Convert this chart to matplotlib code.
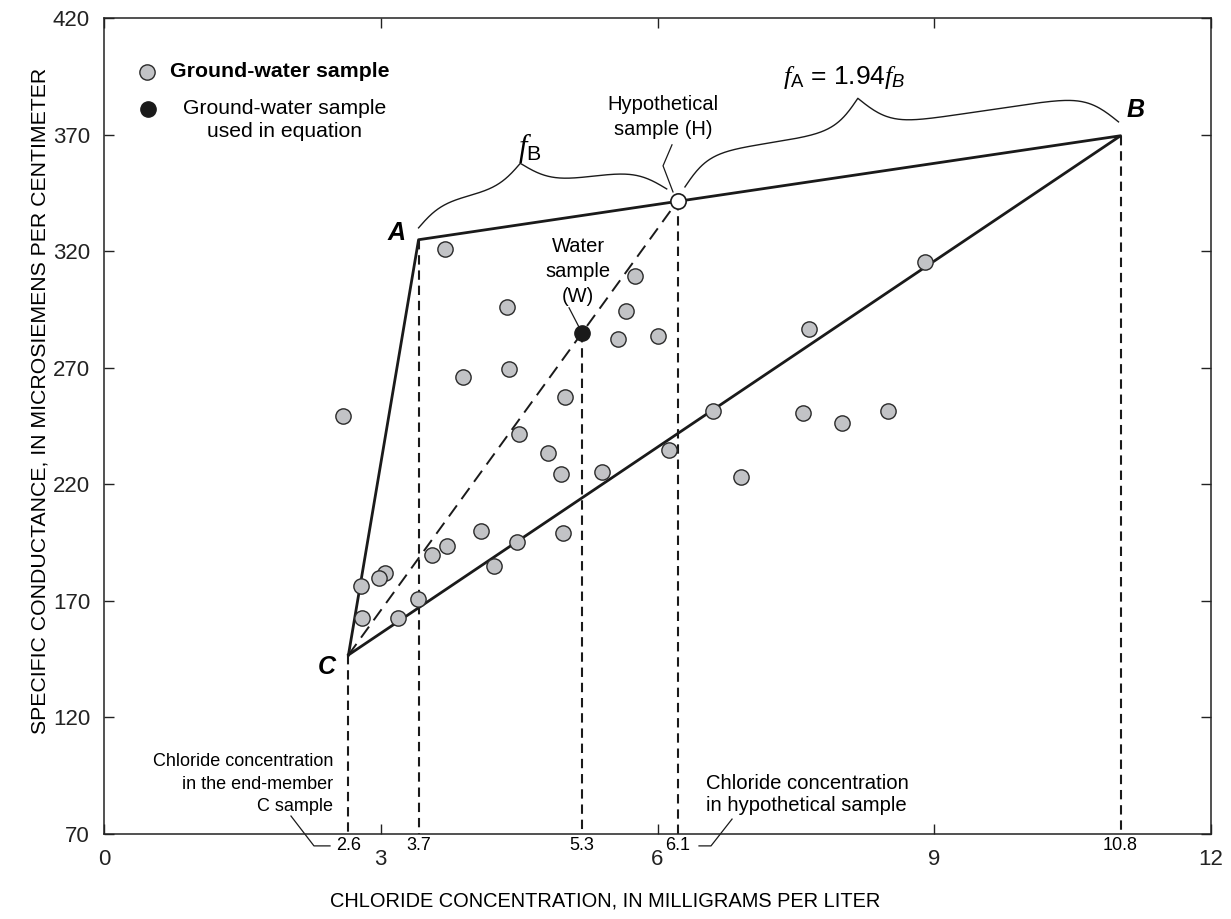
import numpy as np
import matplotlib
matplotlib.use("Agg")
import matplotlib.pyplot as plt

plt.rcParams['font.family'] = ['Liberation Sans', 'DejaVu Sans']
plt.rcParams['mathtext.fontset'] = 'custom'
plt.rcParams['mathtext.rm'] = 'Liberation Sans'
plt.rcParams['mathtext.it'] = 'Liberation Serif:italic'
plt.rcParams['mathtext.sf'] = 'Liberation Sans:italic'

# ground-water samples: chloride (mg/L) and specific conductance (uS/cm)
cl = [2.59, 3.70, 4.37, 5.76, 5.66, 5.57, 6.00, 3.89, 4.39, 5.00, 6.60, 4.50,
      4.81, 6.13, 4.95, 5.40, 6.91, 4.09, 4.98, 4.48, 3.72, 3.56, 4.23, 3.05,
      2.98, 2.79, 3.40, 2.80, 3.19, 8.90, 7.64, 7.58, 8.00, 8.50]
sc = [249.4, 321.0, 296.1, 309.4, 294.3, 282.4, 283.4, 266.2, 269.4, 257.6, 251.5, 241.6,
      233.6, 234.5, 224.5, 225.2, 223.3, 200.0, 199.3, 195.2, 193.4, 189.7, 185.0, 182.1,
      180.0, 176.4, 170.7, 162.6, 162.8, 315.3, 286.4, 250.5, 246.5, 251.4]

# end members C, A, B
end_names = ['C', 'A', 'B']
end_cl = [2.65, 3.41, 11.02]
end_sc = [146.8, 324.9, 369.5]
# water sample W and hypothetical sample H
w_cl, w_sc = 5.18, 284.7
h_cl, h_sc = 6.22, 341.6
# labels under the dashed drop lines (C, A, W, H, B)
drop_cl = [end_cl[0], end_cl[1], w_cl, h_cl, end_cl[2]]
drop_sc = [end_sc[0], end_sc[1], w_sc, h_sc, end_sc[2]]
drop_lbl = ['2.6', '3.7', '5.3', '6.1', '10.8']

fig = plt.figure(figsize=(12.31, 9.19), dpi=100)
ax = fig.add_axes([104/1231, 1-834/919, 1107/1231, 816/919])
ax.set_xlim(0, 12)
ax.set_ylim(70, 420)
ax.set_xticks([0, 3, 6, 9, 12])
ax.set_yticks(range(70, 421, 50))
ax.tick_params(direction='in', length=7, width=1, labelsize=16, pad=10,
               top=True, right=True, colors='#222222')
ax.tick_params(axis='x', pad=11)
for s in ax.spines.values():
    s.set_linewidth(1.1)
    s.set_color('#222222')

ax.set_ylabel('SPECIFIC CONDUCTANCE, IN MICROSIEMENS PER CENTIMETER', fontsize=15.3)
ax.yaxis.set_label_coords(-0.049, 0.531)
ax.set_xlabel('CHLORIDE CONCENTRATION, IN MILLIGRAMS PER LITER', fontsize=14.4)
ax.xaxis.set_label_coords(0.4526, -0.07)

k = '#1a1a1a'
# mixing triangle
ax.plot([end_cl[0], end_cl[1], end_cl[2], end_cl[0]],
        [end_sc[0], end_sc[1], end_sc[2], end_sc[0]], color=k, lw=2, zorder=2)
# C -> H through W
ax.plot([end_cl[0], h_cl], [end_sc[0], h_sc], color=k, lw=1.4,
        linestyle=(0, (7, 4)), zorder=2)
# drop lines
for x, y in zip(drop_cl, drop_sc):
    ax.plot([x, x], [y, 70], color=k, lw=1.5, linestyle=(0, (4.5, 2.8)), zorder=2)
for x, t in zip(drop_cl, drop_lbl):
    ax.text(x, 64.9, t, fontsize=13, ha='center', va='center', clip_on=False)

ax.plot(cl, sc, 'o', ms=11, mfc='#c2c3c6', mec='#2a2a2a', mew=1, zorder=4)
ax.plot(w_cl, w_sc, 'o', ms=11, mfc=k, mec=k, zorder=5)
ax.plot(h_cl, h_sc, 'o', ms=11, mfc='white', mec=k, mew=1.2, zorder=5)

# end-member letters
lbl_pos = {'A': (3.176, 327.8), 'B': (11.187, 380.6), 'C': (2.417, 141.6)}
for n in end_names:
    ax.text(*lbl_pos[n], n, fontsize=18, fontweight='bold', fontstyle='italic',
            ha='center', va='center')

# legend
ax.plot(0.466, 396.9, 'o', ms=11, mfc='#c2c3c6', mec='#2a2a2a', mew=1)
ax.text(0.715, 396.9, 'Ground-water sample', fontsize=15.3, fontweight='bold', va='center')
ax.plot(0.477, 381.0, 'o', ms=11, mfc=k, mec=k)
ax.text(1.96, 376.3, 'Ground-water sample\nused in equation', fontsize=15.2,
        ha='center', va='center', multialignment='center', linespacing=1.25)

# annotations
ax.text(6.06, 377.6, 'Hypothetical\nsample (H)', fontsize=14.5, ha='center',
        va='center', linespacing=1.4)
ax.plot([6.157, 6.060, 6.168], [365.6, 356.6, 345.4], color=k, lw=0.9)
ax.text(5.138, 311.1, 'Water\nsample\n(W)', fontsize=14.5, ha='center', va='center',
        linespacing=1.4)
ax.plot([5.041, 5.160], [295.7, 286.6], color=k, lw=0.9)

ax.text(2.482, 91.4, 'Chloride concentration\nin the end-member\nC sample',
        fontsize=13, ha='right', va='center', multialignment='right', linespacing=1.4)
ax.plot([2.027, 2.276, 2.45], [77.7, 64.9, 64.9], color=k, lw=0.9, clip_on=False)
ax.text(6.526, 86.9, 'Chloride concentration\nin hypothetical sample', fontsize=14.6,
        ha='left', va='center', linespacing=1.2)
ax.plot([6.808, 6.580, 6.45], [76.4, 64.9, 64.9], color=k, lw=0.9, clip_on=False)


def brace(p0, p1, offset, height, tip=0.5, beta=0.07):
    a = ax.transData.transform(p0)
    b = ax.transData.transform(p1)
    d = b - a
    L = np.hypot(*d)
    u = d / L
    nrm = np.array([-u[1], u[0]])
    Ll, Lr = tip * L, (1 - tip) * L
    s1 = np.linspace(0, Ll, 200)
    h1 = 1/(1+np.exp(-beta*s1)) + 1/(1+np.exp(-beta*(s1-Ll))) - 0.5
    s2 = np.linspace(0, Lr, 200)
    h2 = 1/(1+np.exp(-beta*s2)) + 1/(1+np.exp(-beta*(s2-Lr))) - 0.5
    s = np.concatenate([s1, L - s2[::-1]])
    h = np.concatenate([h1 - h1[0], (h2 - h2[0])[::-1]])
    pts = a + np.outer(s, u) + np.outer(offset + h * height, nrm)
    dat = ax.transData.inverted().transform(pts)
    ax.plot(dat[:, 0], dat[:, 1], color=k, lw=1.0, clip_on=False)


brace((end_cl[1] + 0.02, end_sc[1]), (h_cl - 0.1, h_sc), 12, 48, tip=0.44)
brace((h_cl + 0.1, h_sc), (end_cl[2], end_sc[2]), 14, 62, tip=0.42)

ax.text(4.618, 364.3, r'$f_{\mathrm{B}}$', fontsize=22, ha='center', va='center')
ax.text(8.03, 394.3, r'$f_{\mathrm{A}}$ = 1.94$f_{\mathsf{B}}$', fontsize=19,
        ha='center', va='center')

fig.savefig('out.png', dpi=100)
